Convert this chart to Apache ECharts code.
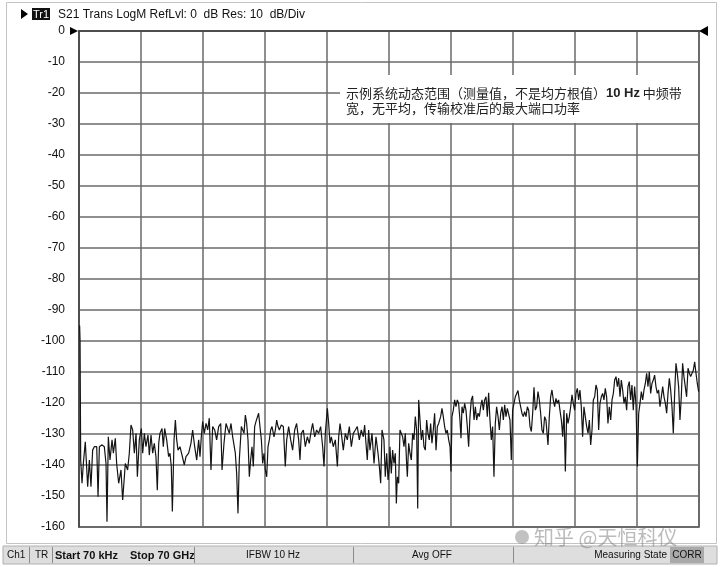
<!DOCTYPE html>
<html><head><meta charset="utf-8">
<script src="https://cdn.jsdelivr.net/npm/echarts/dist/echarts.min.js"></script>
<style>html,body{margin:0;padding:0;background:#fff}#c{width:720px;height:567px}</style>
</head><body><div id="c"></div>
<script>
// Sweep frequencies (GHz), 70 kHz .. 70 GHz
const freqGHz = [
0.07,0.12,0.19,0.34,0.49,0.71,0.98,1.17,1.35,1.54,1.73,2.0,2.15,2.3,2.6,2.86,3.05,3.16,3.31,3.5,3.73,3.88,4.1,4.25,4.48,4.74,4.93,5.23,5.49,5.68,5.87,6.06,6.25,6.44,6.59,6.81,7.04,7.19,7.38,7.56,7.79,7.94,8.13,8.32,8.5,8.69,8.84,9.0,9.14,9.37,9.52,9.67,9.9,10.12,10.27,10.42,10.54,10.73,10.88,11.03,11.18,11.4,11.63,11.89,12.08,12.38,12.64,12.83,13.06,13.29,13.51,13.66,13.81,13.96,14.15,14.34,14.53,14.71,14.9,15.09,15.32,15.54,15.77,16.0,16.15,16.37,16.6,16.79,16.97,17.16,17.35,
17.46,17.65,17.8,17.95,18.1,18.33,18.48,18.63,18.78,18.93,19.08,19.23,19.38,19.53,19.68,19.83,19.98,20.13,20.28,20.43,20.59,20.74,20.89,21.04,21.19,21.34,21.49,21.64,21.79,22.02,22.17,22.32,22.47,22.62,22.84,23.07,23.29,23.45,23.67,23.9,24.12,24.35,24.57,24.8,24.95,25.1,25.33,25.55,25.78,26.0,26.23,26.38,26.61,26.83,27.06,27.28,27.51,27.66,27.81,28.04,28.19,28.34,28.49,28.71,28.94,29.17,29.32,29.47,29.62,29.84,30.07,30.29,30.52,30.75,30.97,31.2,31.42,31.65,31.87,32.1,32.25,32.4,32.55,32.7,32.85,33.08,33.31,33.53,33.76,33.91,34.06,34.21,34.43,34.58,34.74,34.89,35.04,
35.11,35.26,35.41,35.56,35.71,35.83,35.94,36.09,36.24,36.39,36.54,36.69,36.84,36.99,37.07,37.22,37.37,37.52,37.67,37.82,37.97,38.12,38.24,38.35,38.5,38.65,38.8,38.95,39.1,39.25,39.4,39.55,39.7,39.85,40.0,40.15,40.31,40.46,40.61,40.83,40.98,41.13,41.28,41.43,41.58,41.74,41.89,42.0,42.11,42.26,42.41,42.56,42.71,42.86,43.01,43.13,43.24,43.39,43.54,43.69,43.84,43.99,44.14,44.29,44.44,44.6,44.75,44.9,45.05,45.2,45.35,45.5,45.65,45.8,45.95,46.1,46.25,46.4,46.55,46.7,46.85,47.0,47.15,47.31,47.46,47.61,47.76,47.91,48.06,48.21,48.36,48.51,48.66,48.81,48.96,49.11,49.26,49.41,49.56,49.71,49.86,50.01,50.16,50.31,50.47,50.62,50.77,50.92,51.07,51.22,51.37,51.52,51.67,51.82,51.97,52.12,52.27,52.42,52.57,52.72,
52.95,53.1,53.25,53.4,53.55,53.7,53.85,54.0,54.15,54.3,54.46,54.61,54.76,54.91,55.06,55.21,55.36,55.51,55.66,55.81,55.96,56.11,56.26,56.41,56.56,56.71,56.86,57.01,57.16,57.32,57.47,57.62,57.77,57.92,58.07,58.22,58.37,58.52,58.67,58.82,58.97,59.12,59.27,59.42,59.57,59.72,59.87,60.03,60.18,60.33,60.48,60.63,60.78,60.93,61.08,61.23,61.38,61.53,61.68,61.83,61.98,62.13,62.28,62.43,62.58,62.73,62.89,63.04,63.19,63.34,63.49,63.64,63.79,63.94,64.09,64.24,64.39,64.54,64.69,64.84,64.99,65.14,65.29,65.44,65.59,65.75,65.9,66.05,66.2,66.35,66.5,66.65,66.8,66.95,67.1,67.25,67.4,67.55,67.7,67.85,68.0,68.15,68.3,68.45,68.6,68.76,68.91,69.06,69.21,69.36,69.51,69.66,69.81,69.96
];
// S21 magnitude (dB)
const s21dB = [
-95,-100,-138.4,-145.9,-139.5,-132.5,-147,-138.4,-147,-135.2,-134.1,-134.1,-150.2,-134.1,-133.5,-134.1,-139.5,-158.3,-130.9,-138.4,-131.9,-136.2,-131.4,-139.5,-145.9,-141.6,-151.3,-139.5,-141.6,-136.2,-127.1,-128.7,-136.2,-129.8,-143.8,-131.9,-128.2,-136.2,-129.8,-134.1,-130.3,-136.8,-130.3,-136.2,-133,-137.3,-148.1,-133,-129.8,-128.2,-134.1,-128.2,-131.9,-137.3,-136.2,-140.5,-155,-131.9,-125.5,-131.9,-135.2,-134.1,-136.8,-140,-137.3,-136.2,-133,-128.7,-134.1,-138.4,-131.9,-137.3,-130.9,-126,-129.8,-126.6,-128.7,-124.9,-141.6,-127.6,-128.7,-131.9,-127.6,-126.6,-141.6,-133,-126.6,-127.1,-129.8,-126.6,-130.9,
-130.9,-136.2,-142.7,-155.6,-138.4,-127.6,-127.1,-129.8,-123.9,-126.6,-131.9,-143.8,-138.4,-134.1,-140.5,-127.6,-126,-125.5,-123.3,-127.6,-131.9,-139.5,-136.2,-141.6,-143.8,-134.1,-131.9,-128.7,-127.6,-130.9,-128.7,-125.5,-127.6,-128.7,-127.1,-127.6,-140.5,-131.9,-127.6,-131.9,-135.2,-128.7,-126.6,-131.9,-138.4,-129.8,-128.7,-134.1,-130.9,-133,-128.7,-126.6,-130.9,-128.7,-129.8,-127.6,-134.1,-140.5,-129.8,-121.7,-126.6,-133,-130.9,-134.1,-131.9,-140.5,-130.9,-126.6,-129.8,-135.2,-129.8,-131.9,-127.6,-134.1,-129.8,-128.7,-127.6,-131.9,-128.7,-130.9,-127.1,-133,-138.4,-128.7,-135.2,-129.8,-139.5,-130.9,-136.2,-140.5,-145.9,-128.7,-131.9,-143.8,-136.2,-144.8,-140.5,
-134.1,-142.7,-135.2,-139.5,-136.2,-152.4,-143.8,-145.9,-128.7,-128.2,-130.9,-134.1,-129.8,-139.5,-143.8,-133,-136.2,-138.4,-129.8,-131.9,-124.4,-128.7,-154,-119,-125.5,-131.9,-128.7,-134.1,-135.2,-125.5,-129.8,-131.9,-126.6,-133,-128.7,-123.3,-135.2,-127.6,-126.6,-124.4,-121.7,-124.4,-127.6,-129.8,-128.7,-131.9,-134.1,-142.1,-124.4,-122.3,-119,-121.2,-119,-120.1,-125.5,-131.4,-121.2,-123.3,-120.1,-122.3,-127.6,-134.1,-124.4,-119,-117.7,-125.5,-121.2,-125.5,-123.3,-124.4,-121.2,-119,-122.3,-119,-118,-124.4,-116.7,-125.5,-131.9,-127.6,-143.8,-126.6,-121.2,-124.4,-128.7,-123.3,-121.2,-125.5,-120.6,-124.4,-121.7,-122.3,-125.5,-138.4,-122.3,-120.1,-118,-117.4,-116,-119,-121.2,-123.3,-124.4,-122.8,-124.4,-121.2,-122.3,-127.6,-129.2,-123.3,-114.9,-122.3,-121.2,-116.3,-119,-123.3,-128.7,-129.8,-124.4,-125.5,
-133.5,-124.4,-118,-115.8,-119,-121.2,-118.5,-120.1,-119,-122.3,-125.5,-130.9,-122.3,-142.1,-123.3,-126.6,-124.4,-121.2,-117.4,-120.1,-122.3,-116.9,-115.3,-119,-115.8,-121.2,-130.9,-121.2,-124.4,-127.6,-129.8,-125.5,-133.5,-128.7,-119,-118,-114.2,-115.8,-128.7,-120.1,-118,-116.9,-119,-115.3,-118,-126.6,-121.2,-125.5,-119,-116.9,-112.6,-111.5,-114.7,-112,-118,-112.6,-115.8,-120.1,-118,-122.3,-114.7,-113.1,-119,-114.2,-122.3,-114.7,-120.6,-140.5,-123.3,-120.1,-116.3,-119,-115.8,-113.7,-110.4,-114.7,-109.9,-116.9,-113.7,-112.6,-111,-114.7,-116.9,-115.8,-121.2,-118,-114.7,-118,-120.1,-123.3,-116.9,-112,-115.8,-121.2,-129.8,-116.9,-107.2,-110.4,-114.7,-125.5,-118,-107.2,-111.5,-114.7,-118,-108.8,-110.4,-111.5,-110.4,-109.4,-106.7,-110.4,-113.7,-116.3
];
const headerText = 'S21 Trans LogM RefLvl: 0  dB Res: 10  dB/Div';
const traceName = 'Tr1';
const noteLine1a = '示例系统动态范围（测量值，不是均方根值）';
const noteLine1b = '10 Hz';
const noteLine1c = ' 中频带';
const noteLine2 = '宽，无平均，传输校准后的最大端口功率';
const statusLeft = [['Ch1', 7, 'normal'], ['TR', 35, 'normal'], ['Start 70 kHz', 55, 'bold'], ['Stop 70 GHz', 130, 'bold']];
const statusCenter = [['IFBW 10 Hz', 273], ['Avg OFF', 432]];
const statusSeps = [29, 52, 194, 353, 513];
const watermark = '知乎 @天恒科仪';

const n = Math.min(freqGHz.length, s21dB.length);
const data = [];
for (let i = 0; i < n; i++) data.push([freqGHz[i], s21dB[i]]);

const chart = echarts.init(document.getElementById('c'), null, {renderer: 'canvas'});
const SANS = '"Liberation Sans", Arial, sans-serif';
const CJK = '"Noto Sans CJK SC", sans-serif';
const gridColor = '#6a6a6a';

const graphics = [
  {type: 'rect', z: 1, shape: {x: 6.5, y: 2.5, width: 710, height: 541}, style: {fill: null, stroke: '#c4c4c4', lineWidth: 1}},
  {type: 'polygon', z: 100, shape: {points: [[21, 9], [28, 14], [21, 19]]}, style: {fill: '#000'}},
  {type: 'rect', z: 100, shape: {x: 32, y: 8, width: 18, height: 12}, style: {fill: '#111'}},
  {type: 'text', z: 101, x: 41, y: 14.5, style: {text: traceName, font: '11px ' + SANS, fill: '#fff', align: 'center', verticalAlign: 'middle'}},
  {type: 'text', z: 100, x: 58, y: 14.5, style: {text: headerText, font: '12px ' + SANS, fill: '#111', verticalAlign: 'middle'}},
  {type: 'polygon', z: 100, shape: {points: [[70, 27], [78, 31], [70, 35]]}, style: {fill: '#000'}},
  {type: 'polygon', z: 100, shape: {points: [[708, 26], [699, 31], [708, 36]]}, style: {fill: '#000'}},
  // annotation box
  {type: 'rect', z: 100, shape: {x: 340, y: 75, width: 358, height: 48}, style: {fill: '#fff'}},
  {type: 'text', z: 101, x: 346, y: 93, style: {
    text: '{a|' + noteLine1a + '}{b|' + noteLine1b + '}{a|' + noteLine1c + '}',
    verticalAlign: 'middle',
    rich: {a: {font: '13px ' + CJK, fill: '#222'}, b: {font: 'bold 13px ' + SANS, fill: '#222'}}}},
  {type: 'text', z: 101, x: 346, y: 108, style: {text: noteLine2, font: '13px ' + CJK, fill: '#222', verticalAlign: 'middle'}},
  // status bar
  {type: 'rect', z: 100, shape: {x: 3, y: 546, width: 714, height: 18}, style: {fill: '#dedede', stroke: '#b0b0b0', lineWidth: 1}},
  {type: 'rect', z: 101, shape: {x: 670, y: 547, width: 34, height: 16}, style: {fill: '#a9a9a9'}},
  {type: 'text', z: 102, x: 687, y: 555.5, style: {text: 'CORR', font: '10px ' + SANS, fill: '#111', align: 'center', verticalAlign: 'middle'}},
  {type: 'text', z: 102, x: 667, y: 555.5, style: {text: 'Measuring State', font: '10px ' + SANS, fill: '#111', align: 'right', verticalAlign: 'middle'}},
  // watermark
  {type: 'circle', z: 103, shape: {cx: 522, cy: 537, r: 7}, style: {fill: 'rgba(120,120,120,0.45)'}},
  {type: 'text', z: 103, x: 534, y: 537, style: {text: watermark, font: '20px ' + CJK, fill: 'rgba(120,120,120,0.5)', verticalAlign: 'middle'}}
];
statusLeft.forEach(s => graphics.push({type: 'text', z: 102, x: s[1], y: 555.5, style: {text: s[0], font: s[2] + ' ' + (s[2] === 'bold' ? '11px ' : '10px ') + SANS, fill: '#111', verticalAlign: 'middle'}}));
statusCenter.forEach(s => graphics.push({type: 'text', z: 102, x: s[1], y: 555.5, style: {text: s[0], font: '10px ' + SANS, fill: '#111', align: 'center', verticalAlign: 'middle'}}));
statusSeps.forEach(x => graphics.push({type: 'line', z: 102, shape: {x1: x + 0.5, y1: 547, x2: x + 0.5, y2: 563}, style: {stroke: '#8a8a8a', lineWidth: 1}}));

chart.setOption({
  animation: false,
  backgroundColor: '#fff',
  grid: {left: 79, top: 31, width: 620, height: 496, show: true, borderColor: '#444', borderWidth: 1.5, backgroundColor: 'transparent'},
  xAxis: {type: 'value', min: 0, max: 70, interval: 7,
    axisLabel: {show: false}, axisTick: {show: false},
    axisLine: {show: true, lineStyle: {color: '#444', width: 1.5}},
    splitLine: {show: true, lineStyle: {color: gridColor, width: 1.5}}},
  yAxis: {type: 'value', min: -160, max: 0, interval: 10,
    axisLabel: {show: true, color: '#111', fontSize: 12, fontFamily: SANS, margin: 14},
    axisTick: {show: false},
    axisLine: {show: true, lineStyle: {color: '#444', width: 1.5}},
    splitLine: {show: true, lineStyle: {color: gridColor, width: 1.5}}},
  series: [{type: 'line', data: data, showSymbol: false, symbol: 'none',
    lineStyle: {color: '#141414', width: 1.2}, z: 5}],
  graphic: graphics
});
</script>
</body></html>
